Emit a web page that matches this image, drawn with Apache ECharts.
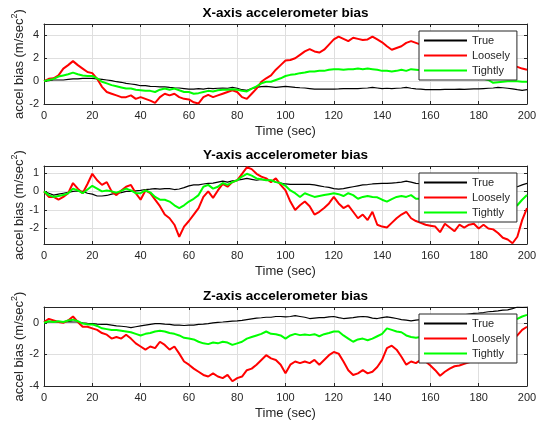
<!DOCTYPE html>
<html>
<head>
<meta charset="utf-8">
<script src="https://cdn.jsdelivr.net/npm/echarts@6/dist/echarts.min.js"></script>
<style>
  html, body { margin: 0; padding: 0; background: #ffffff; }
  #chart { width: 539px; height: 428px; }
</style>
</head>
<body>
<div id="chart"></div>
<script>
// Sample times (sec)
const time = [0,2,4,6,8,10,12,14,16,18,20,22,24,26,28,30,32,34,36,38,40,42,44,46,48,50,52,54,56,58,60,62,64,66,68,70,72,74,76,78,80,82,84,86,88,90,92,94,96,98,100,102,104,106,108,110,112,114,116,118,120,122,124,126,128,130,132,134,136,138,140,142,144,146,148,150,152,154,156,158,160,162,164,166,168,170,172,174,176,178,180,182,184,186,188,190,192,194,196,198,200];

// X-axis accelerometer bias (m/sec^2)
const xTrue = [0,0.05,0.1,0.1,0.1,0.15,0.2,0.2,0.25,0.25,0.25,0.2,0.15,0.1,0.05,-0.05,-0.1,-0.2,-0.25,-0.3,-0.4,-0.4,-0.45,-0.47,-0.5,-0.5,-0.55,-0.58,-0.6,-0.65,-0.7,-0.7,-0.65,-0.7,-0.62,-0.65,-0.62,-0.6,-0.62,-0.55,-0.62,-0.75,-0.8,-0.65,-0.55,-0.48,-0.45,-0.5,-0.55,-0.5,-0.45,-0.5,-0.55,-0.58,-0.6,-0.65,-0.7,-0.7,-0.7,-0.7,-0.7,-0.68,-0.65,-0.65,-0.65,-0.65,-0.62,-0.6,-0.55,-0.6,-0.65,-0.62,-0.65,-0.62,-0.6,-0.55,-0.62,-0.68,-0.7,-0.75,-0.75,-0.75,-0.75,-0.72,-0.72,-0.72,-0.7,-0.72,-0.7,-0.68,-0.68,-0.65,-0.62,-0.6,-0.55,-0.58,-0.62,-0.68,-0.75,-0.8,-0.75];
const xLoose = [0,0.2,0.25,0.5,1.1,1.4,1.75,1.4,1.1,0.8,0.7,0.2,-0.5,-0.95,-1.1,-1.25,-1.4,-1.4,-1.25,-1.55,-1.4,-1.55,-1.7,-1.9,-1.4,-1.1,-1.25,-1.1,-1.4,-1.55,-1.6,-1.85,-1.95,-1.4,-1.2,-1.4,-1.25,-1.1,-0.95,-0.8,-0.95,-1.4,-1.55,-1.1,-0.65,-0.05,0.25,0.5,1.0,1.4,1.8,1.85,2.0,2.3,2.6,2.8,2.6,2.5,2.75,3.2,3.65,3.9,3.7,3.5,3.8,3.7,3.6,3.65,3.9,3.65,3.4,3.05,2.75,2.9,3.05,3.35,3.5,3.35,3.2,3.0,2.9,2.7,2.6,2.4,2.3,2.2,2.1,1.9,1.8,1.7,1.6,1.5,1.5,1.4,1.4,1.35,1.3,1.35,1.25,1.1,1.0];
const xTight = [0,0.1,0.2,0.4,0.5,0.6,0.75,0.6,0.5,0.45,0.45,0.25,-0.05,-0.2,-0.35,-0.45,-0.55,-0.65,-0.65,-0.75,-0.8,-0.85,-0.85,-0.95,-0.75,-0.65,-0.75,-0.65,-0.8,-0.95,-0.95,-1.1,-1.05,-0.95,-0.85,-0.9,-0.8,-0.75,-0.75,-0.7,-0.75,-0.85,-0.9,-0.65,-0.45,-0.2,-0.05,-0.05,0.1,0.25,0.45,0.55,0.6,0.7,0.75,0.85,0.85,0.9,0.9,1.0,1.05,1.05,1.0,1.05,1.05,1.1,1.05,1.1,1.05,1.0,0.9,0.9,0.85,0.9,1.0,0.9,1.05,1.0,0.95,0.9,0.85,0.8,0.75,0.7,0.6,0.55,0.5,0.45,0.4,0.3,0.25,0.2,0.1,-0.15,-0.1,-0.05,0.0,0.0,0.0,-0.05,-0.05];

// Y-axis accelerometer bias (m/sec^2)
const yTrue = [0,-0.1,-0.2,-0.15,-0.1,-0.05,0.0,0.02,0.0,-0.1,-0.15,-0.25,-0.25,-0.22,-0.15,-0.1,-0.07,0.0,0.0,0.03,0.05,0.1,0.12,0.15,0.12,0.15,0.15,0.1,0.13,0.2,0.3,0.35,0.35,0.4,0.43,0.45,0.5,0.55,0.5,0.57,0.6,0.65,0.7,0.65,0.6,0.65,0.6,0.6,0.5,0.45,0.4,0.38,0.38,0.38,0.38,0.38,0.35,0.3,0.25,0.22,0.15,0.12,0.15,0.2,0.25,0.3,0.35,0.37,0.4,0.42,0.43,0.43,0.45,0.47,0.5,0.55,0.5,0.43,0.42,0.43,0.45,0.45,0.45,0.47,0.45,0.45,0.43,0.42,0.4,0.4,0.38,0.35,0.35,0.32,0.3,0.3,0.28,0.25,0.25,0.35,0.43];
const yLoose = [0,-0.3,-0.3,-0.45,-0.3,-0.1,0.45,0.15,-0.1,0.4,0.95,0.6,0.35,0.5,0.0,-0.2,0.05,0.25,0.35,-0.1,-0.45,0.05,-0.1,-0.45,-0.8,-1.25,-1.45,-1.8,-2.45,-1.9,-1.6,-1.25,-0.9,-0.3,0.0,-0.35,0.05,0.4,0.25,0.5,0.6,0.95,1.3,1.2,0.95,0.8,0.7,0.5,0.7,0.35,0.05,-0.55,-1.0,-0.75,-0.55,-0.8,-1.25,-1.1,-0.9,-0.65,-0.3,-0.65,-0.9,-0.75,-1.1,-1.45,-1.25,-1.55,-1.1,-1.8,-1.9,-1.95,-1.7,-1.45,-1.25,-1.1,-1.45,-1.6,-1.7,-1.8,-1.85,-1.9,-2.2,-1.75,-1.95,-2.15,-1.8,-1.95,-1.8,-1.75,-2.0,-1.8,-2.0,-2.05,-2.25,-2.5,-2.6,-2.8,-2.45,-1.55,-0.9];
const yTight = [0,-0.2,-0.3,-0.25,-0.2,-0.1,0.15,0.05,-0.1,0.1,0.3,0.15,0.0,0.05,0.0,-0.07,0.03,0.15,0.05,-0.1,-0.1,0.05,-0.05,-0.3,-0.45,-0.45,-0.55,-0.75,-0.9,-0.75,-0.55,-0.4,-0.2,0.25,0.35,0.15,0.25,0.45,0.35,0.5,0.6,0.8,0.95,0.85,0.7,0.65,0.6,0.6,0.5,0.45,0.3,0.05,-0.1,-0.3,-0.1,-0.2,-0.3,-0.25,-0.2,-0.15,-0.1,-0.15,-0.25,-0.1,-0.2,-0.4,-0.3,-0.25,-0.3,-0.32,-0.45,-0.55,-0.42,-0.3,-0.25,-0.3,-0.2,-0.4,-0.4,-0.45,-0.4,-0.5,-0.45,-0.5,-0.45,-0.5,-0.45,-0.4,-0.45,-0.5,-0.55,-0.5,-0.6,-0.65,-0.7,-0.75,-0.8,-0.85,-0.75,-0.45,-0.2];

// Z-axis accelerometer bias (m/sec^2)
const zTrue = [0,0.05,0.05,0.07,0.05,0.07,0.05,0.05,0.0,-0.03,-0.05,-0.08,-0.1,-0.1,-0.15,-0.2,-0.22,-0.25,-0.3,-0.25,-0.2,-0.15,-0.1,-0.05,-0.05,-0.08,-0.1,-0.15,-0.15,-0.17,-0.15,-0.15,-0.1,-0.08,-0.05,0.0,0.03,0.05,0.08,0.1,0.12,0.15,0.2,0.25,0.3,0.32,0.35,0.35,0.4,0.4,0.37,0.4,0.45,0.4,0.35,0.27,0.3,0.33,0.33,0.37,0.4,0.33,0.27,0.3,0.33,0.37,0.4,0.37,0.3,0.27,0.33,0.37,0.33,0.27,0.2,0.17,0.12,0.17,0.2,0.22,0.25,0.3,0.32,0.35,0.38,0.4,0.45,0.5,0.55,0.6,0.62,0.65,0.7,0.72,0.75,0.8,0.82,0.9,1.0,0.98,1.0];
const zLoose = [0.05,0.25,0.15,0.05,0.0,0.15,0.4,0.05,-0.25,-0.25,-0.35,-0.45,-0.65,-0.75,-1.0,-0.9,-1.0,-0.75,-1.0,-1.3,-1.5,-1.7,-1.5,-1.6,-1.2,-1.4,-1.7,-1.5,-1.95,-2.45,-2.65,-2.9,-3.1,-3.3,-3.4,-3.2,-3.4,-3.5,-3.3,-3.7,-3.5,-3.4,-3.0,-2.9,-2.65,-2.35,-2.05,-2.25,-2.35,-2.65,-3.2,-2.65,-2.45,-2.55,-2.45,-2.55,-2.35,-2.65,-2.35,-2.05,-1.85,-1.95,-2.45,-3.0,-3.3,-3.2,-3.0,-3.2,-3.1,-2.8,-2.35,-1.6,-1.45,-1.7,-2.15,-2.65,-2.45,-2.55,-2.35,-2.45,-2.7,-3.0,-3.35,-3.1,-2.9,-2.75,-2.7,-2.6,-2.5,-2.4,-2.2,-2.0,-1.8,-1.6,-1.5,-1.3,-1.1,-1.0,-0.8,-0.45,-0.25];
const zTight = [0,0.1,0.05,0.1,0.05,0.15,0.2,0.1,-0.05,-0.1,-0.1,-0.2,-0.35,-0.4,-0.45,-0.45,-0.5,-0.55,-0.6,-0.7,-0.8,-0.7,-0.65,-0.55,-0.5,-0.55,-0.65,-0.7,-0.8,-0.95,-1.0,-1.05,-1.2,-1.3,-1.35,-1.25,-1.3,-1.2,-1.25,-1.4,-1.3,-1.2,-1.0,-0.9,-0.8,-0.7,-0.55,-0.7,-0.72,-0.8,-1.0,-0.8,-0.7,-0.78,-0.74,-0.78,-0.72,-0.85,-0.72,-0.65,-0.55,-0.55,-0.8,-1.0,-1.2,-1.05,-1.0,-1.1,-1.0,-0.85,-0.7,-0.35,-0.45,-0.55,-0.6,-0.8,-0.9,-0.95,-0.9,-0.85,-0.8,-0.8,-0.75,-0.7,-0.6,-0.55,-0.5,-0.45,-0.4,-0.3,-0.2,-0.1,0.0,0.05,0.1,0.15,0.2,0.2,0.25,0.4,0.5];

const titles = ['X-axis accelerometer bias', 'Y-axis accelerometer bias', 'Z-axis accelerometer bias'];
const seriesNames = ['True', 'Loosely', 'Tightly'];
const panelData = [[xTrue, xLoose, xTight], [yTrue, yLoose, yTight], [zTrue, zLoose, zTight]];
const yLimits = [[-2, 5], [-2.84, 1.37], [-4, 1]];
const yTickValues = [[-2, 0, 2, 4], [-2, -1, 0, 1], [-4, -2, 0]];
const xTickValues = [0, 20, 40, 60, 80, 100, 120, 140, 160, 180, 200];

// Layout and styling
const FONT = 'Liberation Sans, Arial, Helvetica, sans-serif';
const AXIS = '#262626';
const GRIDLINE = '#dfdfdf';
const lineColors = ['#000000', '#ff0000', '#00ff00'];
const lineWidths = [1.2, 2, 2];
const gridTops = [24, 166, 307];
const gridHeights = [80, 78, 79];
const gridLeft = 44, gridWidth = 483;

const grids = [], xAxes = [], yAxes = [], series = [], legends = [], graphics = [];

for (let i = 0; i < 3; i++) {
  grids.push({
    left: gridLeft, top: gridTops[i], width: gridWidth, height: gridHeights[i],
    containLabel: false, outerBoundsMode: 'none'
  });

  const xCommon = {
    type: 'value', gridIndex: i, min: xTickValues[0], max: xTickValues[xTickValues.length - 1],
    axisLine: { show: true, onZero: false, lineStyle: { color: AXIS, width: 1 } },
    axisTick: { show: true, inside: true, length: 3, customValues: xTickValues, lineStyle: { color: AXIS } }
  };
  xAxes.push(Object.assign({}, xCommon, {
    position: 'bottom',
    name: 'Time (sec)', nameLocation: 'middle', nameGap: 21, nameMoveOverlap: false,
    nameTextStyle: { fontFamily: FONT, fontSize: 13, color: AXIS },
    axisLabel: { show: true, margin: 6, customValues: xTickValues, fontFamily: FONT, fontSize: 11, color: AXIS },
    splitLine: { show: true, lineStyle: { color: GRIDLINE, width: 1 } }
  }));
  xAxes.push(Object.assign({}, xCommon, {
    position: 'top', axisLabel: { show: false }, splitLine: { show: false }
  }));

  const yCommon = {
    type: 'value', gridIndex: i, min: yLimits[i][0], max: yLimits[i][1],
    axisLine: { show: true, onZero: false, lineStyle: { color: AXIS, width: 1 } },
    axisTick: { show: true, inside: true, length: 3, customValues: yTickValues[i], lineStyle: { color: AXIS } }
  };
  yAxes.push(Object.assign({}, yCommon, {
    position: 'left',
    name: 'accel bias (m/sec{sup|2})', nameLocation: 'middle', nameGap: 16, nameMoveOverlap: false,
    nameTextStyle: {
      fontFamily: FONT, fontSize: 13, color: AXIS, lineHeight: 18,
      rich: { sup: { fontFamily: FONT, fontSize: 9, color: AXIS, lineHeight: 10, verticalAlign: 'top' } }
    },
    axisLabel: { show: true, margin: 5, customValues: yTickValues[i], fontFamily: FONT, fontSize: 11, color: AXIS },
    splitLine: { show: true, lineStyle: { color: GRIDLINE, width: 1 } }
  }));
  yAxes.push(Object.assign({}, yCommon, {
    position: 'right', axisLabel: { show: false }, splitLine: { show: false }
  }));

  for (let k = 0; k < 3; k++) {
    series.push({
      type: 'line', name: seriesNames[k], xAxisIndex: 2 * i, yAxisIndex: 2 * i,
      data: time.map((t, j) => [t, panelData[i][k][j]]),
      showSymbol: false, symbol: 'none', animation: false, clip: true,
      color: lineColors[k],
      lineStyle: { color: lineColors[k], width: lineWidths[k] },
      z: 2 + k
    });
  }

  legends.push({
    orient: 'vertical', left: 419, top: gridTops[i] + 7,
    data: seriesNames, icon: 'rect', itemWidth: 43, itemHeight: 2, itemGap: 4,
    padding: [4, 7, 4, 5], backgroundColor: '#ffffff', borderColor: AXIS, borderWidth: 1,
    textStyle: { fontFamily: FONT, fontSize: 11, color: AXIS },
    selectedMode: false, z: 10
  });

  graphics.push({
    type: 'text', x: gridLeft + gridWidth / 2, y: gridTops[i] - 11,
    style: { text: titles[i], font: 'bold 13.5px ' + FONT, fill: '#000000', align: 'center', verticalAlign: 'middle' },
    z: 10
  });
}

const chart = echarts.init(document.getElementById('chart'), null, { renderer: 'canvas' });
chart.setOption({
  backgroundColor: '#ffffff',
  animation: false,
  grid: grids,
  xAxis: xAxes,
  yAxis: yAxes,
  series: series,
  legend: legends,
  graphic: graphics,
  tooltip: { show: false }
});
</script>
</body>
</html>
